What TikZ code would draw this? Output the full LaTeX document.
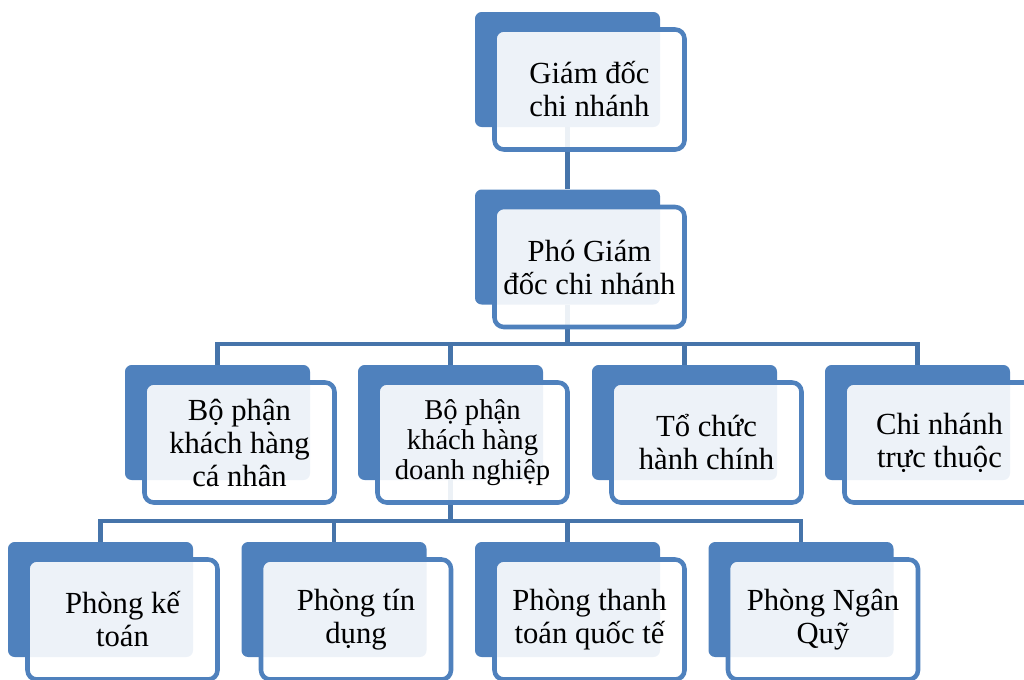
\documentclass[tikz,border=0pt]{standalone}
\usepackage{fontspec}
\setmainfont{Liberation Serif}
\usetikzlibrary{calc,backgrounds}
\definecolor{boxblue}{RGB}{79,129,189}
\definecolor{linkblue}{RGB}{70,116,170}
\begin{document}
\begin{tikzpicture}[x=0.75pt,y=-0.75pt,
  backbox/.style={fill=boxblue,rounded corners=5pt,minimum width=138.75pt,minimum height=86.25pt,inner sep=0pt},
  frontbox/.style={draw=boxblue,line width=3.4pt,fill=white,fill opacity=0.9,text opacity=1,rounded corners=7pt,
    minimum width=142.5pt,minimum height=90pt,inner sep=0pt,align=center,font=\fontsize{23}{24.75}\selectfont},
  link/.style={draw=linkblue,line width=3.3pt}]
  \useasboundingbox (0,0) rectangle (1024,679);
  \clip (0,0) rectangle (1024,679);
  % back plates
  \node [backbox] (gd) at (567.5,69.5) {};
  \node [backbox] (pgd) at (567.5,247) {};
  \node [backbox] (bpcn) at (217.5,422.5) {};
  \node [backbox] (bpdn) at (450.5,422.5) {};
  \node [backbox] (tchc) at (684.5,422.5) {};
  \node [backbox] (cntt) at (917.5,422.5) {};
  \node [backbox] (pkt) at (100.5,599.5) {};
  \node [backbox] (ptd) at (334,599.5) {};
  \node [backbox] (pttqt) at (567.5,599.5) {};
  \node [backbox] (pnq) at (801,599.5) {};
  % text cards
  \node [frontbox] (gd-t) at ($(gd)+(22,20)$) {Giám đốc\\chi nhánh};
  \node [frontbox] (pgd-t) at ($(pgd)+(22,20)$) {Phó Giám\\đốc chi nhánh};
  \node [frontbox] (bpcn-t) at ($(bpcn)+(22,20)$) {Bộ phận\\khách hàng\\cá nhân};
  \node [frontbox,font=\fontsize{21.5}{22.5}\selectfont] (bpdn-t) at ($(bpdn)+(22,20)$) {Bộ phận\\khách hàng\\doanh nghiệp};
  \node [frontbox] (tchc-t) at ($(tchc)+(22,20)$) {Tổ chức\\hành chính};
  \node [frontbox] (cntt-t) at ($(cntt)+(22,20)$) {Chi nhánh\\trực thuộc};
  \node [frontbox] (pkt-t) at ($(pkt)+(22,20)$) {Phòng kế\\toán};
  \node [frontbox] (ptd-t) at ($(ptd)+(22,20)$) {Phòng tín\\dụng};
  \node [frontbox] (pttqt-t) at ($(pttqt)+(22,20)$) {Phòng thanh\\toán quốc tế};
  \node [frontbox] (pnq-t) at ($(pnq)+(22,20)$) {Phòng Ngân\\Quỹ};
  % connectors
  \begin{scope}[on background layer]
    \draw [link] (gd.south) -- (pgd.north);
    \foreach \n in {bpcn,bpdn,tchc,cntt}
      \draw [link] (pgd.south) -- ++(0,39.5) -| (\n.north);
    \foreach \n in {pkt,ptd,pttqt,pnq}
      \draw [link] (bpdn.south) -- ++(0,41) -| (\n.north);
  \end{scope}
\end{tikzpicture}
\end{document}
